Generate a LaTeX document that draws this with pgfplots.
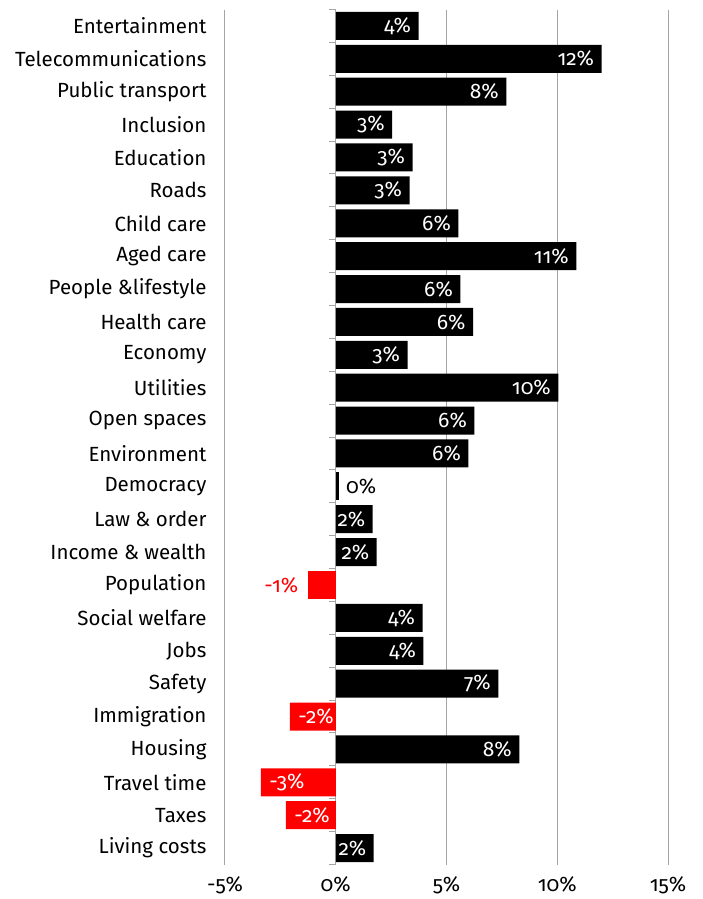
\documentclass[border=0pt]{standalone}
\usepackage{fontspec}
\setmainfont{Fira Sans}[Numbers=OldStyle]
\usepackage{pgfplots}
\usepackage{pgfplotstable}
\pgfplotsset{compat=1.18}
\definecolor{gridgray}{RGB}{165,165,165}
\definecolor{barred}{RGB}{255,0,0}

\pgfplotstableread{
i v t
0 3.74 4\%
1 12.0 12\%
2 7.70 8\%
3 2.55 3\%
4 3.47 3\%
5 3.33 3\%
6 5.54 6\%
7 10.86 11\%
8 5.63 6\%
9 6.20 6\%
10 3.24 3\%
11 10.05 10\%
12 6.26 6\%
13 5.99 6\%
15 1.67 2\%
16 1.85 2\%
18 3.92 4\%
19 3.96 4\%
20 7.34 7\%
22 8.29 8\%
25 1.71 2\%
}\pos

\pgfplotstableread{
i v t
21 -2.07 -2\%
23 -3.38 -3\%
24 -2.25 -2\%
}\neg

\pgfplotstableread{
i v t
17 -1.26 -1\%
}\small

\pgfplotstableread{
i v t
14 0.13 0\%
}\zero

\begin{document}
\begin{tikzpicture}[x=1pt,y=1pt]
\useasboundingbox (0,0) rectangle (703,899);
\begin{axis}[
  at={(225pt,34.5pt)}, anchor=south west,
  scale only axis, width=443pt, height=855pt,
  xmin=-5, xmax=15, ymin=-0.5, ymax=25.5, y dir=reverse,
  xbar, bar width=28pt,
  axis line style={draw=none},
  xtick={-5,0,5,10,15}, xticklabels={-5\%,0\%,5\%,10\%,15\%},
  ytick={0,...,25},
  yticklabels={Entertainment,Telecommunications,Public transport,Inclusion,Education,Roads,Child care,Aged care,People \&lifestyle,Health care,Economy,Utilities,Open spaces,Environment,Democracy,Law \& order,Income \& wealth,Population,Social welfare,Jobs,Safety,Immigration,Housing,Travel time,Taxes,Living costs},
  major tick length=0pt,
  xmajorgrids, grid style={gridgray, line width=1pt},
  yticklabel style={xshift=-15pt, font=\fontsize{20.5}{22}\selectfont},
  xticklabel style={yshift=-9pt, font=\fontsize{21}{22}\selectfont},
  point meta=explicit symbolic,
  nodes near coords,
  every node near coord/.append style={font=\fontsize{21}{22}\selectfont},
  clip=false,
]
\addplot[fill=black, draw=none, bar shift=0pt,
  every node near coord/.append style={anchor=east, text=white, xshift=-4pt}]
  table[x=v, y=i, meta=t] {\pos};
\addplot[fill=barred, draw=none, bar shift=0pt,
  every node near coord/.append style={anchor=west, text=white, xshift=5pt}]
  table[x=v, y=i, meta=t] {\neg};
\addplot[fill=barred, draw=none, bar shift=0pt,
  every node near coord/.append style={anchor=east, text=barred, xshift=-6pt}]
  table[x=v, y=i, meta=t] {\small};
\addplot[fill=black, draw=none, bar shift=0pt,
  every node near coord/.append style={anchor=west, text=black, xshift=4pt}]
  table[x=v, y=i, meta=t] {\zero};
\pgfplotsinvokeforeach{0,...,26}{
  \draw[gridgray, line width=1pt] (axis cs:0,#1-0.5) -- ++(-7pt,0pt);
}
\end{axis}
\end{tikzpicture}
\end{document}
